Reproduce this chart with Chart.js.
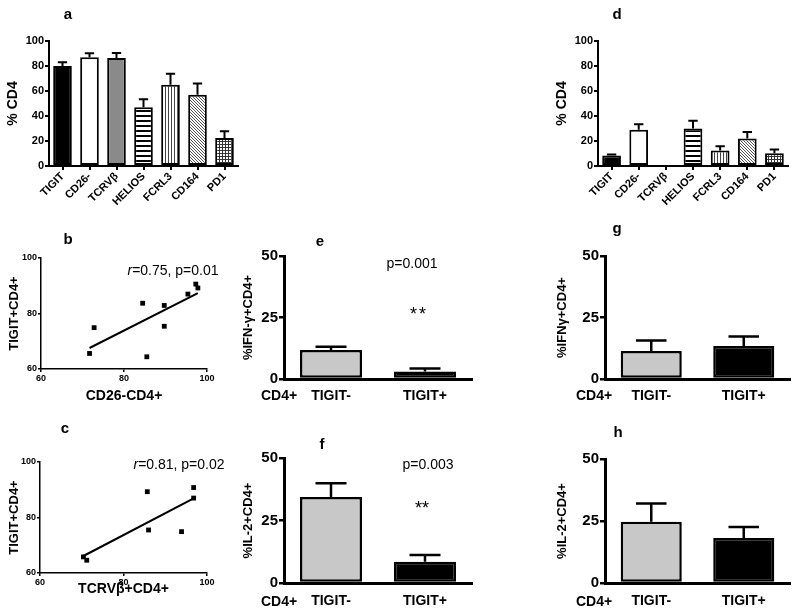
<!doctype html>
<html>
<head>
<meta charset="utf-8">
<title>TIGIT CD4 panels</title>
<script src="https://cdn.jsdelivr.net/npm/chart.js@4.4.1/dist/chart.umd.min.js"></script>
<style>
  body { margin:0; background:#fff; }
  #fig { position:relative; width:800px; height:614px; overflow:hidden;
         font-family:"Liberation Sans", Arial, sans-serif; color:#000; }
  #fig canvas { position:absolute; left:0; top:0; }
  .lbl { position:absolute; white-space:nowrap; transform:translate(-50%,-50%); line-height:1; }
  .b { font-weight:bold; }
</style>
</head>
<body>
<div id="fig">
  <canvas id="chartA" width="800" height="614"></canvas>
  <canvas id="chartB" width="800" height="614"></canvas>
  <canvas id="chartC" width="800" height="614"></canvas>
  <canvas id="chartD" width="800" height="614"></canvas>
  <canvas id="chartE" width="800" height="614"></canvas>
  <canvas id="chartF" width="800" height="614"></canvas>
  <canvas id="chartG" width="800" height="614"></canvas>
  <canvas id="chartH" width="800" height="614"></canvas>

  <!-- panel letters -->
  <div class="lbl b" style="left:68px;top:13px;font-size:15px">a</div>
  <div class="lbl b" style="left:68px;top:238px;font-size:15px">b</div>
  <div class="lbl b" style="left:65px;top:427px;font-size:15px">c</div>
  <div class="lbl b" style="left:617px;top:13px;font-size:15px">d</div>
  <div class="lbl b" style="left:320px;top:240px;font-size:15px">e</div>
  <div class="lbl b" style="left:322px;top:443px;font-size:15px">f</div>
  <div class="lbl b" style="left:617px;top:227px;font-size:15px">g</div>
  <div class="lbl b" style="left:618px;top:431px;font-size:15px">h</div>

  <!-- stats -->
  <div class="lbl" style="left:173px;top:270px;font-size:14px"><i>r</i>=0.75, p=0.01</div>
  <div class="lbl" style="left:179px;top:464px;font-size:14px"><i>r</i>=0.81, p=0.02</div>
  <div class="lbl" style="left:412px;top:263px;font-size:14px">p=0.001</div>
  <div class="lbl" style="left:419px;top:314px;font-size:18px;letter-spacing:2px">**</div>
  <div class="lbl" style="left:428px;top:464px;font-size:14px">p=0.003</div>
  <div class="lbl" style="left:422px;top:508px;font-size:18px">**</div>

  <!-- row captions -->
  <div class="lbl b" style="left:279px;top:395px;font-size:14px">CD4+</div>
  <div class="lbl b" style="left:279px;top:601px;font-size:14px">CD4+</div>
  <div class="lbl b" style="left:594px;top:395px;font-size:14px">CD4+</div>
  <div class="lbl b" style="left:594px;top:601px;font-size:14px">CD4+</div>
</div>

<script>
// a / d : marker expression on CD4 cells
var markers = ['TIGIT', 'CD26-', 'TCRVβ', 'HELIOS', 'FCRL3', 'CD164', 'PD1'];
var aMean = [80, 87, 86.5, 47, 65, 57, 22.5];
var aErr  = [3, 3.2, 4, 6.4, 8.8, 9, 5.3];
var dMean = [8.5, 29, 0, 30, 12.4, 22, 10.3];
var dErr  = [0.8, 4.5, 0, 6.3, 3.5, 5.2, 2.9];

// b / c : correlations
var bX = [71.7, 72.8, 84.5, 85.5, 89.7, 89.7, 95.4, 97.3, 97.8];
var bY = [65.6, 74.9, 83.7, 64.4, 82.9, 75.4, 87.0, 90.6, 89.2];
var cX = [70.4, 71.2, 85.7, 86.0, 93.9, 96.8, 96.8];
var cY = [65.8, 64.6, 89.3, 75.5, 74.9, 90.8, 87.0];

// e - h : cytokines in TIGIT- / TIGIT+
var groups = ['TIGIT-', 'TIGIT+'];
var eMean = [11.8, 3.0],  eErr = [1.3, 1.3];
var fMean = [34.4, 8.5],  fErr = [5.5, 2.7];
var gMean = [11.4, 13.4], gErr = [4.2, 3.9];
var hMean = [24.7, 18.1], hErr = [7.4, 4.5];

Chart.defaults.font.family = '"Liberation Sans", Arial, sans-serif';
Chart.defaults.color = '#000';

// small repeating fills
function tile(w, h, draw) {
    var c = document.createElement('canvas');
    c.width = w; c.height = h;
    var x = c.getContext('2d');
    x.fillStyle = '#fff'; x.fillRect(0, 0, w, h);
    x.fillStyle = '#000';
    draw(x);
    return x.createPattern(c, 'repeat');
}
var stripeH = tile(4, 5, function(x){ x.fillRect(0, 0, 4, 2); });
var stripeV = tile(3, 4, function(x){ x.fillStyle = '#444'; x.fillRect(0, 0, 1, 4); });
var hatch   = tile(3, 3, function(x){ x.fillStyle = '#555'; for (var i = 0; i < 3; i++) x.fillRect(i, i, 1, 1); });
var grid    = tile(3, 3, function(x){ x.fillStyle = '#333'; x.fillRect(0, 0, 3, 1); x.fillRect(0, 0, 1, 3); });
var markerFill = ['#000', '#fff', '#8a8a8a', stripeH, stripeV, hatch, grid];
var groupFill  = ['#c8c8c8', '#000'];

// upper error bars (mean + sem)
Chart.register({
    id: 'errorBars',
    afterDatasetsDraw: function(chart) {
        var ds = chart.data.datasets[0];
        if (!ds.errors) return;
        var meta = chart.getDatasetMeta(0), y = chart.scales.y, ctx = chart.ctx;
        ctx.save();
        ctx.strokeStyle = '#000';
        ctx.lineWidth = ds.borderWidth;
        meta.data.forEach(function(bar, i) {
            var e = ds.errors[i];
            if (!e) return;
            var base = y.getPixelForValue(ds.data[i]);
            var top = y.getPixelForValue(ds.data[i] + e);
            var half = bar.width / 4;
            ctx.beginPath();
            ctx.moveTo(bar.x, base); ctx.lineTo(bar.x, top);
            ctx.moveTo(bar.x - half, top); ctx.lineTo(bar.x + half, top);
            ctx.stroke();
        });
        ctx.restore();
    }
});

function pad(g) {
    return { left: g.l - g.yW, top: g.t, right: 800 - g.r, bottom: 614 - g.b - g.xH };
}

// a & d
function markerChart(id, mean, err, g) {
    return new Chart(document.getElementById(id), {
        type: 'bar',
        data: {
            labels: markers,
            datasets: [{
                data: mean, errors: err, backgroundColor: markerFill,
                borderColor: '#000', borderWidth: 2, borderSkipped: false,
                barPercentage: 0.69, categoryPercentage: 1
            }]
        },
        options: {
            responsive: false, animation: false,
            layout: { padding: pad(g) },
            plugins: { legend: { display: false }, tooltip: { enabled: false } },
            scales: {
                x: {
                    afterFit: function(s){ s.height = g.xH; },
                    border: { color: '#000', width: 2 },
                    grid: { drawOnChartArea: false, offset: false, tickLength: 4, color: '#000', lineWidth: 2 },
                    ticks: { autoSkip: false, minRotation: 45, maxRotation: 45, padding: 0,
                             font: { size: 11, weight: 'bold' } }
                },
                y: {
                    min: 0, max: 100,
                    afterFit: function(s){ s.width = g.yW; },
                    border: { color: '#000', width: 2 },
                    grid: { drawOnChartArea: false, tickLength: 4, color: '#000', lineWidth: 2 },
                    ticks: { stepSize: 20, padding: 1, font: { size: 11, weight: 'bold' } },
                    title: { display: true, text: '% CD4', font: { size: 14, weight: 'bold' },
                             padding: { top: g.tp, bottom: 0 } }
                }
            }
        }
    });
}

// least squares line over the observed x range
function fit(xs, ys) {
    var n = xs.length, mx = 0, my = 0, sxy = 0, sxx = 0;
    for (var i = 0; i < n; i++) { mx += xs[i] / n; my += ys[i] / n; }
    for (var j = 0; j < n; j++) { sxy += (xs[j] - mx) * (ys[j] - my); sxx += (xs[j] - mx) * (xs[j] - mx); }
    var k = sxy / sxx;
    var lo = Math.min.apply(null, xs), hi = Math.max.apply(null, xs);
    return [{ x: lo, y: my + k * (lo - mx) }, { x: hi, y: my + k * (hi - mx) }];
}

// b & c
function corrChart(id, xs, ys, xTitle, g) {
    var pts = xs.map(function(x, i){ return { x: x, y: ys[i] }; });
    var axis = {
        min: 60, max: 100,
        border: { color: '#000', width: 1.5 },
        grid: { drawOnChartArea: false, tickLength: 3, color: '#000', lineWidth: 1.5 },
        ticks: { stepSize: 20, padding: 1, font: { size: 9, weight: 'bold' } }
    };
    return new Chart(document.getElementById(id), {
        type: 'scatter',
        data: {
            datasets: [
                { data: pts, pointStyle: 'rect', pointRadius: 3.4, backgroundColor: '#000', borderColor: '#000', borderWidth: 0 },
                { type: 'line', data: fit(xs, ys), borderColor: '#000', borderWidth: 2, pointRadius: 0, fill: false }
            ]
        },
        options: {
            responsive: false, animation: false,
            layout: { padding: pad(g) },
            plugins: { legend: { display: false }, tooltip: { enabled: false } },
            scales: {
                x: Object.assign({}, axis, {
                    type: 'linear',
                    afterFit: function(s){ s.height = g.xH; },
                    title: { display: true, text: xTitle, font: { size: 14, weight: 'bold' },
                             padding: { top: 0, bottom: g.xp } }
                }),
                y: Object.assign({}, axis, {
                    afterFit: function(s){ s.width = g.yW; },
                    title: { display: true, text: 'TIGIT+CD4+', font: { size: 13, weight: 'bold' },
                             padding: { top: g.tp, bottom: 0 } }
                })
            }
        }
    });
}

// e - h
function groupChart(id, mean, err, yTitle, g) {
    return new Chart(document.getElementById(id), {
        type: 'bar',
        data: {
            labels: groups,
            datasets: [{
                data: mean, errors: err, backgroundColor: groupFill,
                borderColor: '#000', borderWidth: 2.5, borderSkipped: false,
                barPercentage: 0.66, categoryPercentage: 1
            }]
        },
        options: {
            responsive: false, animation: false,
            layout: { padding: pad(g) },
            plugins: { legend: { display: false }, tooltip: { enabled: false } },
            scales: {
                x: {
                    afterFit: function(s){ s.height = g.xH; },
                    border: { color: '#000', width: 3 },
                    grid: { drawOnChartArea: false, drawTicks: false },
                    ticks: { padding: g.xp, font: { size: 14, weight: 'bold' } }
                },
                y: {
                    min: 0, max: 50,
                    afterFit: function(s){ s.width = g.yW; },
                    border: { color: '#000', width: 3 },
                    grid: { drawOnChartArea: false, tickLength: 5, color: '#000', lineWidth: 2.5 },
                    ticks: { stepSize: 25, padding: 1, font: { size: 15, weight: 'bold' } },
                    title: { display: true, text: yTitle, font: { size: 13, weight: 'bold' },
                             padding: { top: g.tp, bottom: 0 } }
                }
            }
        }
    });
}

markerChart('chartA', aMean, aErr, { l: 49, r: 238, t: 41, b: 166, yW: 49, xH: 45, tp: 5 });
markerChart('chartD', dMean, dErr, { l: 598, r: 788, t: 41, b: 166, yW: 45, xH: 45, tp: 1 });

corrChart('chartB', bX, bY, 'CD26-CD4+', { l: 41, r: 207, t: 258, b: 369, yW: 41, xH: 36, tp: 7, xp: 0 });
corrChart('chartC', cX, cY, 'TCRVβ+CD4+', { l: 40, r: 207, t: 462, b: 573, yW: 40, xH: 26, tp: 7, xp: 1 });

groupChart('chartE', eMean, eErr, '%IFN-γ+CD4+', { l: 284, r: 472, t: 256, b: 379, yW: 45, xH: 30, tp: 2, xp: 9 });
groupChart('chartF', fMean, fErr, '%IL-2+CD4+',  { l: 284, r: 472, t: 458, b: 583, yW: 45, xH: 28, tp: 2, xp: 10 });
groupChart('chartG', gMean, gErr, '%IFNγ+CD4+',  { l: 605, r: 790, t: 256, b: 379, yW: 50, xH: 30, tp: 0, xp: 9 });
groupChart('chartH', hMean, hErr, '%IL-2+CD4+',  { l: 605, r: 790, t: 459, b: 583, yW: 50, xH: 28, tp: 0, xp: 10 });
</script>
</body>
</html>
